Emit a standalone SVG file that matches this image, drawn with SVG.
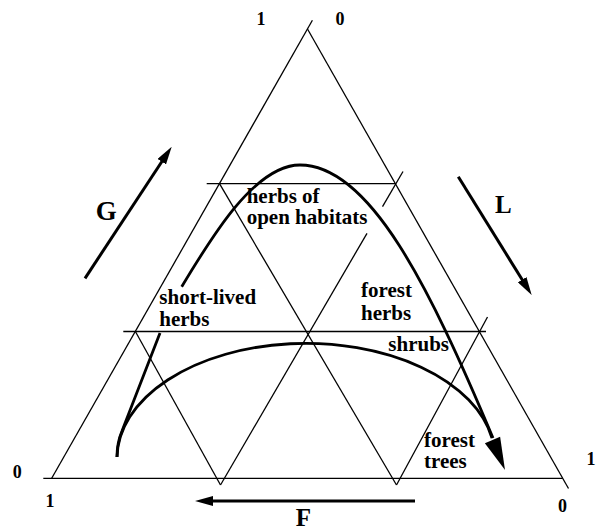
<svg xmlns="http://www.w3.org/2000/svg" width="596" height="530" viewBox="0 0 596 530">
<defs>
<style>
.grid{stroke:#000;stroke-width:1.3;fill:none}
.curve{stroke:#000;stroke-width:2.8;fill:none}
.arrow{stroke:#000;stroke-width:3;fill:none}
.head{fill:#000;stroke:none}
.lbl{font-family:"Liberation Serif","Times New Roman",serif;font-weight:bold;font-size:21px;fill:#000}
.num{font-family:"Liberation Serif","Times New Roman",serif;font-weight:bold;font-size:18px;fill:#000;text-anchor:middle}
.axis{font-family:"Liberation Serif","Times New Roman",serif;font-weight:bold;fill:#000;text-anchor:middle}
</style>
<marker id="ah" viewBox="0 0 18 10" refX="8" refY="5" markerWidth="18" markerHeight="10" markerUnits="userSpaceOnUse" orient="auto">
<path d="M0,0 L18,5 L0,10 z" fill="#000"/>
</marker>
</defs>
<rect x="0" y="0" width="596" height="530" fill="#fff"/>

<g id="triangle-grid" class="grid">
<line x1="312.4" y1="20.3" x2="51.7" y2="478.3"/>
<line x1="307.5" y1="29" x2="568.5" y2="488.5"/>
<line x1="43.3" y1="478.3" x2="562.7" y2="478.3"/>
<line x1="206.7" y1="183.7" x2="396" y2="183.7"/>
<line x1="123.3" y1="331.5" x2="486" y2="331.5"/>
<line x1="219.5" y1="183.7" x2="396.5" y2="485"/>
<line x1="220.5" y1="485" x2="367" y2="233.3"/>
<line x1="382.5" y1="206.7" x2="403" y2="171.5"/>
<line x1="135.4" y1="331.5" x2="220.5" y2="485"/>
<line x1="396.5" y1="485" x2="487.5" y2="317"/>
</g>

<g id="connectors">
<path class="curve" d="M117,457 A189,115 0 0 1 492,438"/>
<path class="curve" d="M117,457 C117,446 119,438 122,431 L160,333 M181.7,286.7 C211.7,236.7 255,165 300,165 C370,165 430,288 493,438"/>
<polygon class="head" points="505,470 500.1,436.8 484.9,443.2"/>
</g>

<g id="arrow-G">
<line class="arrow" x1="85" y1="278.3" x2="166.2" y2="155" marker-end="url(#ah)"/>
<text class="axis" x="106.3" y="220" font-size="27">G</text>
</g>
<g id="arrow-L">
<line class="arrow" x1="458.3" y1="176.7" x2="526.4" y2="286.5" marker-end="url(#ah)"/>
<text class="axis" x="503.3" y="213.3" font-size="25">L</text>
</g>
<g id="arrow-F">
<line class="arrow" x1="415" y1="501" x2="205" y2="501" marker-end="url(#ah)"/>
<text class="axis" x="303.3" y="525.5" font-size="25">F</text>
</g>

<g id="node-herbs-open">
<text class="lbl" x="246.7" y="203">herbs of</text>
<text class="lbl" x="246.7" y="223.5">open habitats</text>
</g>
<g id="node-short-lived">
<text class="lbl" x="159.3" y="304.3">short-lived</text>
<text class="lbl" x="159.3" y="326">herbs</text>
</g>
<g id="node-forest-herbs">
<text class="lbl" x="361" y="297.3">forest</text>
<text class="lbl" x="361" y="320">herbs</text>
</g>
<g id="node-shrubs">
<text class="lbl" x="388.3" y="351">shrubs</text>
</g>
<g id="node-forest-trees">
<text class="lbl" x="424" y="446.7">forest</text>
<text class="lbl" x="424" y="468.3">trees</text>
</g>

<g id="scale-labels">
<text class="num" x="261" y="25">1</text>
<text class="num" x="340" y="25">0</text>
<text class="num" x="17.3" y="478">0</text>
<text class="num" x="50" y="506.7" font-size="20">1</text>
<text class="num" x="562.5" y="511.7">0</text>
<text class="num" x="591" y="465">1</text>
</g>
</svg>
